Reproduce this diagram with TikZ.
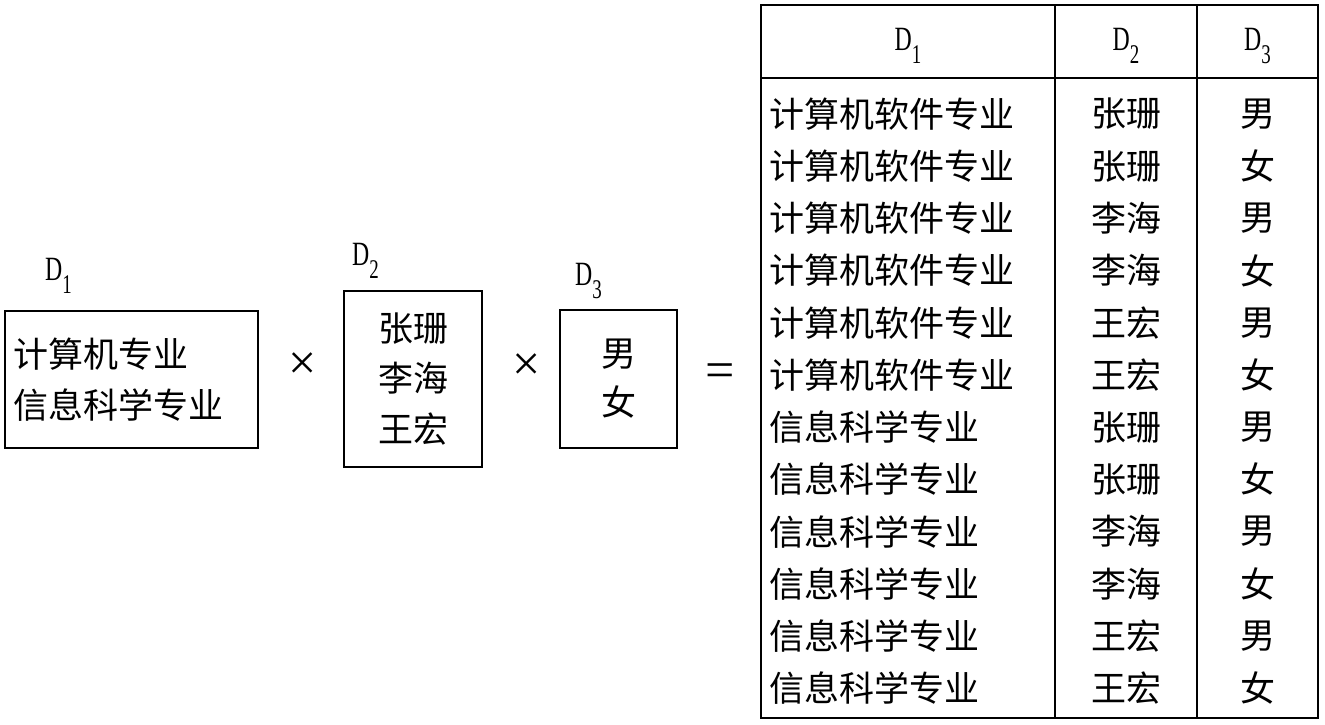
\documentclass[tikz,border=0pt]{standalone}
\usepackage{fontspec}
\setmainfont{Liberation Serif}
\newfontfamily\cjk{Noto Sans CJK SC}
\newfontfamily\dfont[FakeStretch=0.7]{Liberation Serif}
\newcommand{\dlab}[1]{{\dfont\fontsize{34}{34}\selectfont D\raisebox{-13pt}{\fontsize{27}{27}\selectfont #1}}}
\begin{document}
\begin{tikzpicture}[x=1pt,y=-1pt,
  cjktext/.style={font=\cjk\fontsize{35}{51}\selectfont, inner sep=0pt},
  box/.style={draw, line width=1.2pt},
  lab/.style={inner sep=0pt, anchor=base west},
  op/.style={inner sep=0pt, font=\fontsize{50}{50}\selectfont},
  rule/.style={line width=1.3pt}]
\useasboundingbox (0,0) rectangle (1325,725);
% left operands
\node[box, cjktext, font=\cjk\fontsize{35}{51}\selectfont, minimum width=253pt, minimum height=137pt,
      text width=237pt, inner xsep=8pt, align=left] (b1) at (131.5,379.5) {计算机专业\\信息科学专业};
\node[box, cjktext, font=\cjk\fontsize{35}{50.5}\selectfont, minimum width=138pt, minimum height=176pt,
      align=center] (b2) at (413,379) {张珊\\李海\\王宏};
\node[box, cjktext, font=\cjk\fontsize{35}{49}\selectfont, minimum width=117pt, minimum height=138pt,
      align=center] (b3) at (618.5,379) {男\\女};
\node[lab] (l1) at (45,280) {\dlab{1}};
\node[lab] (l2) at (352,265) {\dlab{2}};
\node[lab] (l3) at (575,285) {\dlab{3}};
\node[op] (x1) at (303,366) {×};
\node[op] (x2) at (527,367) {×};
\node[op, font=\fontsize{52}{52}\selectfont] (eq) at (720,376) {=};
% table
\draw[rule] (761,5) rectangle (1318,718);
\draw[rule] (1055,5) -- (1055,718);
\draw[rule] (1197,5) -- (1197,718);
\draw[rule] (761,78) -- (1318,78);
\node[anchor=base, inner sep=0pt] (h1) at (908,51) {\dlab{1}};
\node[anchor=base, inner sep=0pt] (h2) at (1126,51) {\dlab{2}};
\node[anchor=base, inner sep=0pt] (h3) at (1257.5,51) {\dlab{3}};
\foreach \a/\b/\c [count=\i] in {
  计算机软件专业/张珊/男, 计算机软件专业/张珊/女,
  计算机软件专业/李海/男, 计算机软件专业/李海/女,
  计算机软件专业/王宏/男, 计算机软件专业/王宏/女,
  信息科学专业/张珊/男, 信息科学专业/张珊/女,
  信息科学专业/李海/男, 信息科学专业/李海/女,
  信息科学专业/王宏/男, 信息科学专业/王宏/女} {
  \node[cjktext, anchor=west] (ra\i) at (769,{114+52.2*(\i-1)}) {\a};
  \node[cjktext] (rb\i) at (1126,{114+52.2*(\i-1)}) {\b};
  \node[cjktext] (rc\i) at (1257.5,{114+52.2*(\i-1)}) {\c};
}
\end{tikzpicture}
\end{document}
